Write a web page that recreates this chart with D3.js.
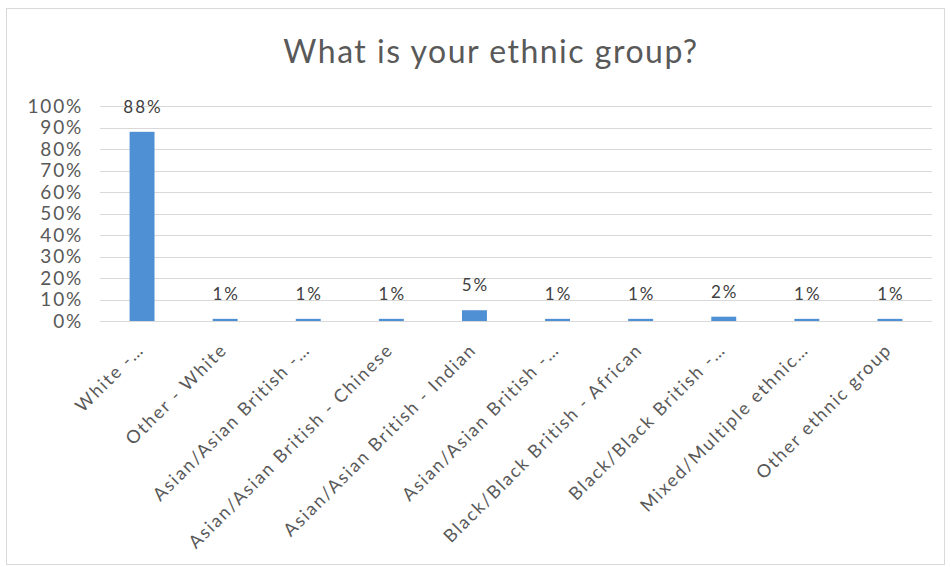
<!DOCTYPE html>
<html><head><meta charset="utf-8">
<script src="https://cdn.jsdelivr.net/npm/d3@7"></script>
<style>body{margin:0;background:#fff;} svg{display:block;}</style>
</head><body>
<svg id="c" width="951" height="567"></svg>
<script>
const categories = ["White -…","Other - White","Asian/Asian British -…","Asian/Asian British - Chinese","Asian/Asian British - Indian","Asian/Asian British -…","Black/Black British - African","Black/Black British -…","Mixed/Multiple ethnic…","Other ethnic group"];
const values = [88,1,1,1,5,1,1,2,1,1];
const yTicks = [0,10,20,30,40,50,60,70,80,90,100];
const title = "What is your ethnic group?";

const svg = d3.select("#c");
const font = "Lato, 'Open Sans', sans-serif";
svg.append("rect").attr("x",6.5).attr("y",8.5).attr("width",938).attr("height",556)
  .attr("fill","#fff").attr("stroke","#d9d9d9");

const idx = categories.map((c,i)=>i);
const x = d3.scaleBand().domain(idx).range([100.5,931.5]).paddingInner(0.7).paddingOuter(0.35);
const y = d3.scaleLinear().domain([0,100]).range([321,106]);

svg.append("text").attr("x",491).attr("y",63).attr("text-anchor","middle")
  .attr("font-family",font).attr("font-size",32).attr("letter-spacing",1.5)
  .attr("fill","#595959").text(title);

const grid = svg.append("g");
grid.selectAll("line").data(yTicks).join("line")
  .attr("x1",100).attr("x2",932).attr("y1",d=>Math.round(y(d))+0.5).attr("y2",d=>Math.round(y(d))+0.5)
  .attr("stroke","#d9d9d9").attr("stroke-width",1);

const yAxis = svg.append("g").attr("transform","translate(83,0)")
  .call(d3.axisLeft(y).tickValues(yTicks).tickFormat(d=>d+"%").tickSize(0).tickPadding(0));
yAxis.select(".domain").remove();
yAxis.selectAll("text").attr("font-family",font).attr("font-size",19).attr("letter-spacing",1.8)
  .attr("fill","#595959");

svg.selectAll("rect.bar").data(values).join("rect").attr("class","bar")
  .attr("x",(d,i)=>x(i)).attr("width",x.bandwidth())
  .attr("y",d=>y(d)).attr("height",d=>y(0)-y(d)).attr("fill","#4f8fd3");

svg.selectAll("text.lbl").data(values).join("text").attr("class","lbl")
  .attr("x",(d,i)=>x(i)+x.bandwidth()/2+1).attr("y",d=>y(d)-19)
  .attr("text-anchor","middle").attr("font-family",font).attr("font-size",17).attr("letter-spacing",2)
  .attr("fill","#404040")
  .text(d=>d+"%");

const xAxis = svg.append("g").attr("transform","translate(0,321)")
  .call(d3.axisBottom(x).tickFormat(i=>categories[i]).tickSize(0).tickPadding(0));
xAxis.select(".domain").remove();
xAxis.selectAll("text").attr("font-family",font).attr("font-size",18).attr("letter-spacing",1.8)
  .attr("fill","#595959")
  .attr("text-anchor","end").attr("dy",null)
  .attr("transform","translate(3,30) rotate(-45)");
</script>
</body></html>
